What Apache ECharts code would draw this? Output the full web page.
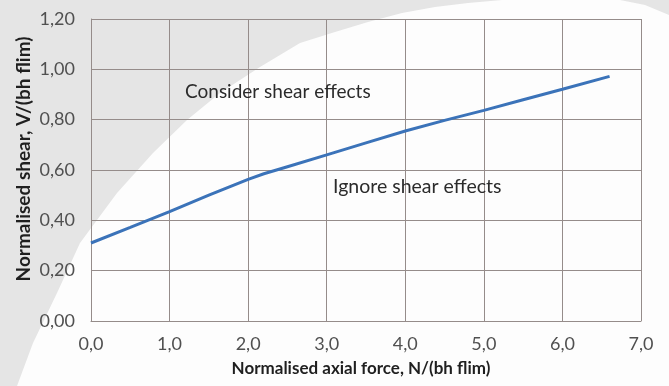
<!DOCTYPE html>
<html>
<head>
<meta charset="utf-8">
<script src="https://cdn.jsdelivr.net/npm/echarts@6/dist/echarts.min.js"></script>
<style>
  html, body { margin: 0; padding: 0; background: #e5e5e5; }
  #chart { width: 669px; height: 386px; }
</style>
</head>
<body>
<div id="chart"></div>
<script>
// axial force N/(bh flim) and matching shear limit V/(bh flim)
const axialForce = [0, 0.5, 1.0, 1.5, 2.0, 2.2, 2.5, 3.0, 3.5, 4.0, 4.5, 5.0, 5.5, 6.0, 6.6];
const shearLimit = [0.31, 0.372, 0.435, 0.5, 0.563, 0.585, 0.613, 0.66, 0.708, 0.755, 0.797, 0.837, 0.879, 0.921, 0.972];

const xTitle = 'Normalised axial force, N/(bh flim)';
const yTitle = 'Normalised shear, V/(bh flim)';
const regionLabels = ['Consider shear effects', 'Ignore shear effects'];

const font = 'Lato, "Open Sans", sans-serif';

const chart = echarts.init(document.getElementById('chart'));

// white page shape behind the chart (decorative, page background)
const pageShape = [
  [17, 386], [33, 343], [57, 293], [80, 243], [117, 193], [153, 153], [187, 120],
  [220, 93], [260, 67], [300, 43], [335, 32], [368, 22], [402, 13], [435, 7],
  [468, 3], [502, 0], [620, 0], [645, 5], [669, 15], [669, 386]
];

const option = {
  animation: false,
  backgroundColor: 'transparent',
  grid: { left: 91, top: 19, width: 550, height: 302 },
  xAxis: {
    type: 'value',
    min: 0,
    max: 7,
    interval: 1,
    axisLine: { show: true, lineStyle: { color: '#958c8a', width: 1 } },
    axisTick: { show: false },
    splitLine: { show: true, lineStyle: { color: '#958c8a', width: 1 } },
    axisLabel: {
      color: '#505050',
      fontFamily: font,
      fontSize: 18,
      margin: 14,
      formatter: v => v.toFixed(1).replace('.', ',')
    }
  },
  yAxis: {
    type: 'value',
    min: 0,
    max: 1.2,
    interval: 0.2,
    axisLine: { show: true, lineStyle: { color: '#958c8a', width: 1 } },
    axisTick: { show: false },
    splitLine: { show: true, lineStyle: { color: '#958c8a', width: 1 } },
    axisLabel: {
      color: '#505050',
      fontFamily: font,
      fontSize: 18,
      margin: 16,
      formatter: v => v.toFixed(2).replace('.', ',')
    }
  },
  series: [
    {
      type: 'line',
      data: axialForce.map((x, i) => [x, shearLimit[i]]),
      showSymbol: false,
      lineStyle: { color: '#3b73b9', width: 3 },
      z: 5
    }
  ],
  graphic: [
    {
      type: 'polygon',
      z: -10,
      silent: true,
      shape: { points: pageShape },
      style: { fill: '#fdfdfd' }
    },
    {
      type: 'text',
      left: 185,
      top: 82,
      z: 20,
      style: { text: regionLabels[0], fill: '#2b2b2b', font: '19px ' + font }
    },
    {
      type: 'text',
      left: 333,
      top: 177,
      z: 20,
      style: { text: regionLabels[1], fill: '#2b2b2b', font: '19.5px ' + font }
    },
    {
      type: 'text',
      x: 361,
      y: 369,
      z: 20,
      style: {
        text: xTitle, fill: '#1f1f1f', font: 'bold 17px ' + font,
        align: 'center', verticalAlign: 'middle'
      }
    },
    {
      type: 'text',
      x: 24,
      y: 159,
      rotation: Math.PI / 2,
      z: 20,
      style: {
        text: yTitle, fill: '#1f1f1f', font: 'bold 19px ' + font,
        align: 'center', verticalAlign: 'middle'
      }
    }
  ]
};

chart.setOption(option);
</script>
</body>
</html>
